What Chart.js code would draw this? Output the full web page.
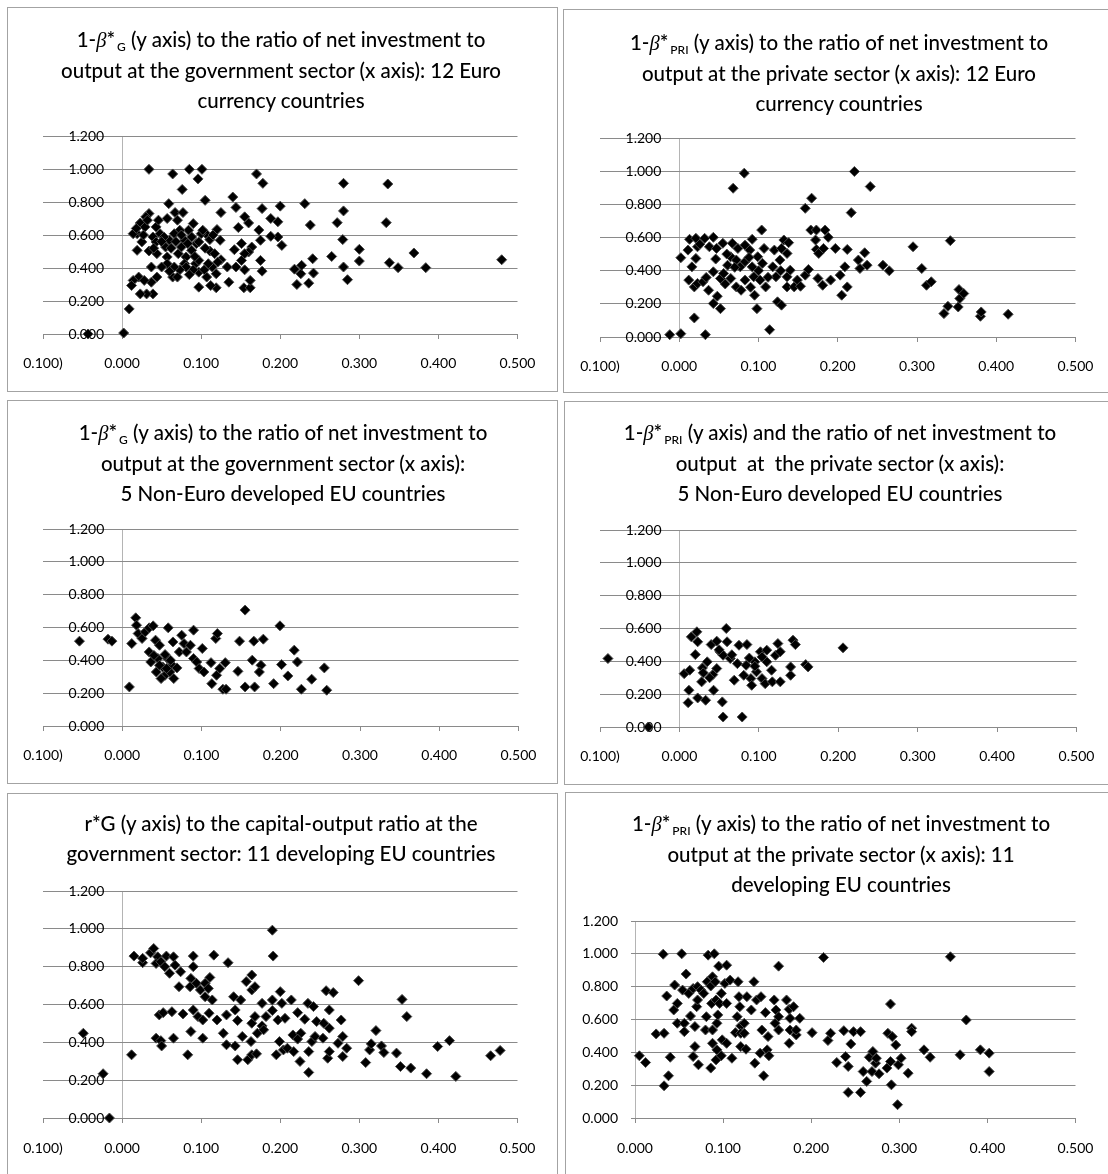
<!DOCTYPE html>
<html>
<head>
<meta charset="utf-8">
<script src="https://cdn.jsdelivr.net/npm/chart.js@4.4.0/dist/chart.umd.min.js"></script>
<style>
  html, body { margin: 0; padding: 0; background: #fff; }
  #page { position: relative; width: 1108px; height: 1174px; overflow: hidden; background: #fff; }
  .panel { position: absolute; border: 1.5px solid #a3a3a3; box-sizing: border-box; }
  .title { position: absolute; width: 560px; text-align: center; font-family: Lato, sans-serif; font-weight: 500; font-size: 20.5px; line-height: 30px; color: #000; white-space: nowrap; }
  .title .b { font-family: 'Liberation Serif', serif; font-style: italic; }
  .title sub { font-size: 12px; line-height: 0; vertical-align: -4px; margin-left: 2px; }
  canvas { position: absolute; }
</style>
</head>
<body>
<div id="page"></div>
<script>
// tick labels
var xTicksNeg = ["0.100)", "0.000", "0.100", "0.200", "0.300", "0.400", "0.500"];
var xTicksPos = ["0.000", "0.100", "0.200", "0.300", "0.400", "0.500"];
var yTicks = ["0.000", "0.200", "0.400", "0.600", "0.800", "1.000", "1.200"];

// 12 Euro currency countries, government sector [x, y]
var euroGov = [
  [-0.043,0.000],[0.002,0.006],[0.009,0.152],[0.034,0.998],[0.064,0.970],[0.085,0.998],[0.101,0.998],
  [0.096,0.940],[0.076,0.876],[0.059,0.790],[0.067,0.736],[0.077,0.736],[0.105,0.810],[0.125,0.736],
  [0.140,0.830],[0.144,0.767],[0.170,0.970],[0.178,0.913],[0.177,0.760],[0.200,0.775],[0.231,0.790],
  [0.238,0.660],[0.280,0.913],[0.280,0.746],[0.272,0.675],[0.279,0.572],[0.336,0.909],[0.334,0.675],
  [0.300,0.513],[0.300,0.442],[0.265,0.470],[0.280,0.406],[0.285,0.329],[0.338,0.432],[0.349,0.402],
  [0.369,0.491],[0.384,0.402],[0.480,0.450],[0.241,0.456],[0.242,0.369],[0.236,0.308],[0.226,0.365],
  [0.221,0.300],[0.227,0.416],[0.218,0.393],[0.202,0.537],[0.197,0.588],[0.197,0.680],[0.188,0.700],
  [0.188,0.592],[0.175,0.446],[0.177,0.381],[0.173,0.630],[0.175,0.568],[0.160,0.673],[0.155,0.710],
  [0.164,0.527],[0.160,0.497],[0.151,0.548],[0.155,0.487],[0.147,0.645],[0.142,0.511],[0.151,0.446],
  [0.155,0.389],[0.154,0.280],[0.162,0.280],[0.162,0.325],[0.144,0.406],[0.135,0.314],[0.133,0.406],
  [0.124,0.568],[0.125,0.450],[0.120,0.633],[0.121,0.436],[0.119,0.365],[0.119,0.280],[0.112,0.294],
  [0.107,0.345],[0.097,0.284],[0.106,0.608],[0.111,0.572],[0.111,0.503],[0.100,0.608],[0.094,0.548],
  [0.090,0.669],[0.084,0.629],[0.079,0.568],[0.073,0.629],[0.066,0.608],[0.060,0.568],[0.055,0.527],
  [0.048,0.608],[0.043,0.649],[0.046,0.690],[0.039,0.588],[0.034,0.730],[0.030,0.710],[0.023,0.673],
  [0.019,0.608],[0.014,0.608],[0.019,0.507],[0.025,0.558],[0.029,0.649],[0.034,0.503],[0.043,0.558],
  [0.044,0.487],[0.053,0.588],[0.057,0.467],[0.071,0.487],[0.075,0.527],[0.081,0.467],[0.088,0.507],
  [0.097,0.558],[0.088,0.588],[0.079,0.426],[0.081,0.406],[0.093,0.426],[0.097,0.375],[0.090,0.389],
  [0.073,0.389],[0.066,0.406],[0.064,0.345],[0.070,0.345],[0.057,0.426],[0.050,0.406],[0.044,0.345],
  [0.037,0.406],[0.037,0.314],[0.039,0.243],[0.031,0.243],[0.023,0.243],[0.021,0.345],[0.014,0.325],
  [0.012,0.294],[0.028,0.325],[0.097,0.446],[0.104,0.389],[0.114,0.406],[0.117,0.487],[0.109,0.426],
  [0.070,0.690],[0.057,0.700],[0.102,0.629],[0.062,0.520],[0.068,0.560],[0.083,0.548],[0.050,0.560],
  [0.027,0.600],[0.040,0.520],[0.075,0.600],[0.092,0.470],[0.060,0.380],[0.085,0.360],[0.105,0.520],
  [0.115,0.600],[0.018,0.640],[0.032,0.690]
];

// 12 Euro currency countries, private sector
var euroPri = [
  [-0.012,0.014],[0.002,0.020],[0.033,0.014],[0.019,0.115],[0.002,0.478],[0.011,0.524],[0.013,0.589],
  [0.021,0.595],[0.023,0.544],[0.016,0.423],[0.021,0.474],[0.012,0.343],[0.019,0.302],[0.023,0.323],
  [0.030,0.333],[0.034,0.359],[0.037,0.282],[0.032,0.595],[0.043,0.601],[0.038,0.544],[0.047,0.534],
  [0.055,0.565],[0.043,0.393],[0.043,0.202],[0.048,0.246],[0.052,0.171],[0.052,0.353],[0.056,0.383],
  [0.061,0.433],[0.065,0.484],[0.067,0.565],[0.074,0.534],[0.072,0.464],[0.077,0.423],[0.065,0.353],
  [0.072,0.302],[0.078,0.282],[0.083,0.343],[0.083,0.454],[0.083,0.554],[0.068,0.897],[0.082,0.988],
  [0.092,0.589],[0.089,0.524],[0.092,0.423],[0.094,0.363],[0.095,0.252],[0.098,0.171],[0.099,0.484],
  [0.104,0.645],[0.107,0.534],[0.105,0.444],[0.102,0.343],[0.109,0.302],[0.114,0.044],[0.118,0.423],
  [0.120,0.524],[0.122,0.363],[0.124,0.212],[0.129,0.192],[0.127,0.464],[0.129,0.534],[0.132,0.585],
  [0.136,0.504],[0.138,0.569],[0.136,0.363],[0.140,0.403],[0.136,0.302],[0.145,0.302],[0.149,0.343],
  [0.153,0.306],[0.159,0.373],[0.163,0.407],[0.159,0.776],[0.167,0.837],[0.166,0.645],[0.173,0.645],
  [0.172,0.585],[0.173,0.528],[0.176,0.504],[0.175,0.353],[0.181,0.312],[0.184,0.645],[0.188,0.601],
  [0.182,0.534],[0.191,0.343],[0.197,0.534],[0.203,0.373],[0.205,0.252],[0.212,0.302],[0.209,0.423],
  [0.212,0.528],[0.217,0.750],[0.221,0.998],[0.241,0.907],[0.226,0.464],[0.228,0.413],[0.234,0.508],
  [0.237,0.433],[0.257,0.433],[0.265,0.399],[0.295,0.544],[0.306,0.413],[0.312,0.312],[0.318,0.333],
  [0.334,0.141],[0.339,0.185],[0.342,0.581],[0.352,0.181],[0.353,0.286],[0.354,0.232],[0.359,0.262],
  [0.380,0.125],[0.381,0.151],[0.415,0.137],[0.060,0.500],[0.070,0.420],[0.088,0.480],[0.100,0.400],
  [0.112,0.360],[0.058,0.320],[0.090,0.300],[0.128,0.400],[0.046,0.470],[0.026,0.560]
];

// 5 Non-Euro developed EU countries, government sector
var nonEuroGov = [
  [-0.054,0.517],[-0.018,0.529],[-0.013,0.517],[0.009,0.238],[0.012,0.502],[0.017,0.659],[0.018,0.614],
  [0.020,0.563],[0.025,0.533],[0.029,0.573],[0.034,0.598],[0.039,0.610],[0.042,0.523],[0.047,0.492],
  [0.058,0.598],[0.034,0.451],[0.036,0.390],[0.043,0.329],[0.045,0.411],[0.051,0.360],[0.054,0.309],
  [0.057,0.411],[0.063,0.370],[0.065,0.289],[0.060,0.329],[0.049,0.289],[0.069,0.354],[0.064,0.512],
  [0.072,0.451],[0.075,0.553],[0.078,0.502],[0.081,0.451],[0.090,0.584],[0.086,0.492],[0.090,0.411],
  [0.094,0.390],[0.097,0.350],[0.101,0.472],[0.103,0.329],[0.112,0.386],[0.113,0.258],[0.118,0.533],
  [0.120,0.563],[0.119,0.309],[0.123,0.350],[0.127,0.224],[0.131,0.224],[0.130,0.386],[0.146,0.333],
  [0.148,0.517],[0.155,0.706],[0.155,0.238],[0.164,0.401],[0.166,0.517],[0.167,0.238],[0.175,0.370],
  [0.173,0.329],[0.178,0.529],[0.191,0.258],[0.199,0.610],[0.201,0.374],[0.209,0.305],[0.217,0.462],
  [0.221,0.390],[0.226,0.224],[0.239,0.285],[0.255,0.354],[0.258,0.218],[0.047,0.370],[0.054,0.435],
  [0.056,0.350],[0.040,0.430],[0.061,0.400]
];

// 5 Non-Euro developed EU countries, private sector
var nonEuroPri = [
  [-0.090,0.417],[-0.039,0.000],[0.006,0.325],[0.013,0.346],[0.012,0.224],[0.011,0.148],[0.023,0.177],
  [0.033,0.163],[0.043,0.224],[0.054,0.153],[0.055,0.061],[0.079,0.061],[0.015,0.549],[0.022,0.580],
  [0.023,0.519],[0.020,0.441],[0.029,0.360],[0.028,0.275],[0.035,0.397],[0.042,0.319],[0.047,0.356],
  [0.040,0.502],[0.047,0.523],[0.051,0.458],[0.059,0.600],[0.060,0.519],[0.055,0.437],[0.064,0.417],
  [0.069,0.285],[0.075,0.498],[0.073,0.386],[0.085,0.502],[0.084,0.376],[0.081,0.315],[0.090,0.295],
  [0.091,0.254],[0.095,0.397],[0.097,0.336],[0.102,0.458],[0.104,0.295],[0.108,0.264],[0.110,0.397],
  [0.116,0.346],[0.117,0.275],[0.121,0.437],[0.124,0.508],[0.127,0.458],[0.127,0.275],[0.140,0.315],
  [0.140,0.366],[0.143,0.529],[0.146,0.502],[0.159,0.380],[0.162,0.366],[0.206,0.482],[0.110,0.468],
  [0.104,0.427],[0.030,0.330],[0.050,0.470],[0.066,0.440],[0.088,0.420],[0.095,0.370],[0.038,0.300]
];

// 11 developing EU countries, government sector (r*G)
var devGov = [
  [-0.049,0.448],[-0.024,0.234],[-0.016,0.000],[0.012,0.334],[0.015,0.856],[0.026,0.821],[0.026,0.844],
  [0.036,0.873],[0.040,0.896],[0.045,0.852],[0.043,0.817],[0.049,0.826],[0.054,0.800],[0.056,0.856],
  [0.065,0.852],[0.067,0.808],[0.060,0.765],[0.074,0.773],[0.072,0.694],[0.090,0.856],[0.090,0.800],
  [0.087,0.738],[0.086,0.694],[0.094,0.712],[0.099,0.677],[0.105,0.712],[0.111,0.743],[0.109,0.685],
  [0.116,0.861],[0.114,0.624],[0.105,0.641],[0.134,0.821],[0.047,0.545],[0.052,0.557],[0.063,0.562],
  [0.077,0.550],[0.090,0.571],[0.096,0.536],[0.102,0.518],[0.110,0.554],[0.120,0.518],[0.043,0.422],
  [0.049,0.409],[0.050,0.381],[0.065,0.422],[0.083,0.334],[0.087,0.457],[0.102,0.422],[0.128,0.448],
  [0.132,0.387],[0.132,0.545],[0.141,0.641],[0.143,0.571],[0.146,0.515],[0.150,0.624],[0.143,0.381],
  [0.146,0.308],[0.152,0.431],[0.159,0.308],[0.157,0.721],[0.164,0.756],[0.164,0.677],[0.168,0.694],
  [0.164,0.501],[0.168,0.536],[0.163,0.404],[0.164,0.334],[0.170,0.339],[0.171,0.448],[0.177,0.606],
  [0.177,0.487],[0.179,0.466],[0.182,0.536],[0.190,0.993],[0.191,0.856],[0.190,0.624],[0.190,0.568],
  [0.197,0.518],[0.200,0.668],[0.202,0.606],[0.199,0.404],[0.195,0.334],[0.204,0.360],[0.206,0.527],
  [0.214,0.624],[0.209,0.369],[0.217,0.351],[0.216,0.439],[0.222,0.557],[0.226,0.448],[0.222,0.417],
  [0.225,0.299],[0.231,0.522],[0.235,0.606],[0.242,0.589],[0.236,0.351],[0.236,0.241],[0.240,0.404],
  [0.244,0.431],[0.246,0.510],[0.254,0.422],[0.255,0.501],[0.258,0.673],[0.262,0.571],[0.262,0.475],
  [0.260,0.316],[0.262,0.351],[0.267,0.663],[0.273,0.395],[0.277,0.518],[0.279,0.431],[0.279,0.325],
  [0.284,0.369],[0.299,0.726],[0.308,0.293],[0.313,0.360],[0.315,0.392],[0.321,0.462],[0.328,0.381],
  [0.331,0.346],[0.347,0.343],[0.354,0.627],[0.360,0.536],[0.352,0.272],[0.365,0.264],[0.385,0.234],
  [0.399,0.378],[0.414,0.409],[0.422,0.220],[0.466,0.329],[0.478,0.357]
];

// 11 developing EU countries, private sector
var devPri = [
  [0.005,0.379],[0.012,0.338],[0.024,0.512],[0.032,0.998],[0.033,0.516],[0.033,0.196],[0.036,0.743],
  [0.038,0.257],[0.040,0.370],[0.044,0.658],[0.045,0.810],[0.048,0.698],[0.048,0.577],[0.053,1.000],
  [0.054,0.779],[0.056,0.577],[0.058,0.877],[0.056,0.526],[0.061,0.759],[0.063,0.621],[0.066,0.789],
  [0.066,0.374],[0.068,0.435],[0.068,0.557],[0.070,0.678],[0.071,0.719],[0.071,0.800],[0.072,0.324],
  [0.075,0.779],[0.080,0.536],[0.078,0.759],[0.081,0.617],[0.083,0.992],[0.082,0.830],[0.086,0.304],
  [0.086,0.804],[0.087,0.698],[0.090,1.000],[0.088,0.860],[0.088,0.536],[0.088,0.455],[0.091,0.830],
  [0.092,0.719],[0.093,0.577],[0.092,0.354],[0.094,0.628],[0.093,0.415],[0.095,0.925],[0.096,0.698],
  [0.098,0.759],[0.099,0.476],[0.098,0.379],[0.104,0.455],[0.104,0.931],[0.102,0.820],[0.104,0.698],
  [0.108,0.840],[0.110,0.364],[0.114,0.520],[0.116,0.617],[0.117,0.830],[0.118,0.739],[0.119,0.678],
  [0.120,0.561],[0.120,0.516],[0.120,0.435],[0.126,0.419],[0.127,0.739],[0.124,0.516],[0.124,0.577],
  [0.132,0.658],[0.135,0.830],[0.136,0.334],[0.138,0.719],[0.143,0.739],[0.142,0.395],[0.146,0.257],
  [0.144,0.536],[0.148,0.642],[0.150,0.415],[0.151,0.496],[0.152,0.379],[0.158,0.719],[0.159,0.577],
  [0.160,0.658],[0.163,0.925],[0.163,0.617],[0.163,0.536],[0.172,0.719],[0.175,0.662],[0.176,0.607],
  [0.175,0.455],[0.176,0.536],[0.180,0.678],[0.183,0.506],[0.183,0.536],[0.187,0.607],[0.201,0.520],
  [0.214,0.978],[0.219,0.472],[0.222,0.516],[0.229,0.338],[0.237,0.532],[0.239,0.374],[0.242,0.314],
  [0.242,0.156],[0.245,0.451],[0.248,0.526],[0.256,0.526],[0.256,0.156],[0.259,0.283],[0.263,0.223],
  [0.266,0.370],[0.269,0.283],[0.270,0.405],[0.273,0.334],[0.274,0.364],[0.277,0.269],[0.286,0.304],
  [0.287,0.516],[0.290,0.694],[0.292,0.496],[0.290,0.344],[0.291,0.202],[0.296,0.445],[0.298,0.081],
  [0.299,0.324],[0.302,0.364],[0.310,0.273],[0.314,0.547],[0.314,0.526],[0.328,0.415],[0.335,0.370],
  [0.358,0.982],[0.369,0.385],[0.376,0.597],[0.392,0.415],[0.402,0.395],[0.402,0.283]
];

var gridColor = "#8a8a8a";
var axisColor = "#b4b4b4";
var tickFont = { family: "Lato", size: 14 };

var beta = '1-<span class="b">&beta;</span>*';
var panels = [
  { box: [7, 7, 551, 385], plot: [43, 136, 521, 334], data: euroGov, xMin: -0.1, gapBelow: 29,
    title: [beta + '<sub>G</sub> (y axis) to the ratio of net investment to',
            'output at the government sector (x axis): 12 Euro', 'currency countries'],
    titleX: 281, titleY: 24 },
  { box: [563, 9, 560, 384], plot: [600, 138, 1079, 337], data: euroPri, xMin: -0.1, gapBelow: 29,
    title: [beta + '<sub>PRI</sub> (y axis) to the ratio of net investment to',
            'output at the private sector (x axis): 12 Euro', 'currency countries'],
    titleX: 839, titleY: 27 },
  { box: [7, 400, 551, 384], plot: [43, 529, 522, 726], data: nonEuroGov, xMin: -0.1, gapBelow: 29,
    title: [beta + '<sub>G</sub> (y axis) to the ratio of net investment to',
            'output at the government sector (x axis):', '5 Non-Euro developed EU countries'],
    titleX: 283, titleY: 417 },
  { box: [564, 401, 560, 384], plot: [600, 530, 1080, 727], data: nonEuroPri, xMin: -0.1, gapBelow: 29,
    title: [beta + '<sub>PRI</sub> (y axis) and the ratio of net investment to',
            'output&nbsp; at&nbsp; the private sector (x axis):', '5 Non-Euro developed EU countries'],
    titleX: 840, titleY: 417 },
  { box: [7, 793, 551, 400], plot: [43, 891, 522, 1118], data: devGov, xMin: -0.1, gapBelow: 30,
    title: ['r*G (y axis) to the capital-output ratio at the',
            'government sector: 11 developing EU countries'],
    titleX: 281, titleY: 808 },
  { box: [565, 792, 560, 400], plot: [635, 921, 1080, 1118], data: devPri, xMin: 0, gapBelow: 30,
    title: [beta + '<sub>PRI</sub> (y axis) to the ratio of net investment to',
            'output at the private sector (x axis): 11', 'developing EU countries'],
    titleX: 841, titleY: 808 }
];

var page = document.getElementById("page");
var measure = document.createElement("canvas").getContext("2d");
measure.font = tickFont.size + "px " + tickFont.family;
var labelW = measure.measureText("0.000").width;

panels.forEach(function (p) {
  var panel = document.createElement("div");
  panel.className = "panel";
  panel.style.left = p.box[0] + "px";
  panel.style.top = p.box[1] + "px";
  panel.style.width = p.box[2] + "px";
  panel.style.height = p.box[3] + "px";
  page.appendChild(panel);

  var inside = p.xMin < 0;   // y labels drawn inside the plot, left of x = 0
  var plotW = p.plot[2] - p.plot[0];
  var plotH = p.plot[3] - p.plot[1];
  var padL = inside ? 40 : 5;
  var yW = inside ? 0 : 60;
  // top padding must exceed the y scale's own (label half height + tick padding)
  var padR = 30, padT = 45, padB = 2;
  var xAxisH = p.gapBelow + 22;
  var zeroX = inside ? plotW / 6 : 0;

  var canvas = document.createElement("canvas");
  var cw = plotW + padL + yW + padR;
  var ch = plotH + padT + xAxisH + padB;
  canvas.width = cw; canvas.height = ch;
  canvas.style.width = cw + "px"; canvas.style.height = ch + "px";
  canvas.style.left = (p.plot[0] - padL - yW) + "px";
  canvas.style.top = (p.plot[1] - padT) + "px";
  page.appendChild(canvas);

  var xLabels = inside ? xTicksNeg : xTicksPos;

  new Chart(canvas, {
    type: "scatter",
    data: {
      datasets: [{
        data: p.data.map(function (d) { return { x: d[0], y: d[1] }; }),
        pointStyle: "rectRot",
        pointRadius: 5,
        pointHoverRadius: 5,
        backgroundColor: "#000",
        borderColor: "#4a4a4a",
        borderWidth: 1,
        clip: false
      }]
    },
    options: {
      responsive: false,
      animation: false,
      events: [],
      layout: { padding: { left: padL, right: padR, top: padT, bottom: padB } },
      plugins: { legend: { display: false }, tooltip: { enabled: false } },
      scales: {
        x: {
          type: "linear",
          min: p.xMin,
          max: 0.5,
          afterFit: function (s) { s.height = xAxisH; },
          border: { display: true, color: gridColor, width: 1 },
          grid: {
            color: function (ctx) { return ctx.tick && Math.abs(ctx.tick.value) < 1e-9 ? axisColor : "transparent"; },
            lineWidth: 1,
            drawTicks: true,
            tickLength: 5,
            tickColor: gridColor
          },
          ticks: {
            stepSize: 0.1,
            autoSkip: false,
            maxRotation: 0,
            padding: p.gapBelow - 5 - tickFont.size * 0.6,
            color: "#000",
            font: tickFont,
            callback: function (v, i) { return xLabels[i]; }
          }
        },
        y: {
          type: "linear",
          min: 0,
          max: 1.2,
          afterFit: function (s) { s.width = yW; },
          border: { display: false },
          grid: {
            color: gridColor,
            lineWidth: 1,
            drawTicks: !inside,
            tickLength: 4,
            tickColor: gridColor
          },
          ticks: {
            stepSize: 0.2,
            mirror: inside,
            padding: inside ? (zeroX - 18.5 - labelW) : 13,
            color: "#000",
            font: tickFont,
            callback: function (v, i) { return yTicks[i]; }
          }
        }
      }
    }
  });

  var title = document.createElement("div");
  title.className = "title";
  title.style.left = (p.titleX - 280) + "px";
  title.style.top = p.titleY + "px";
  title.innerHTML = p.title.join("<br>");
  page.appendChild(title);
});
</script>
</body>
</html>
